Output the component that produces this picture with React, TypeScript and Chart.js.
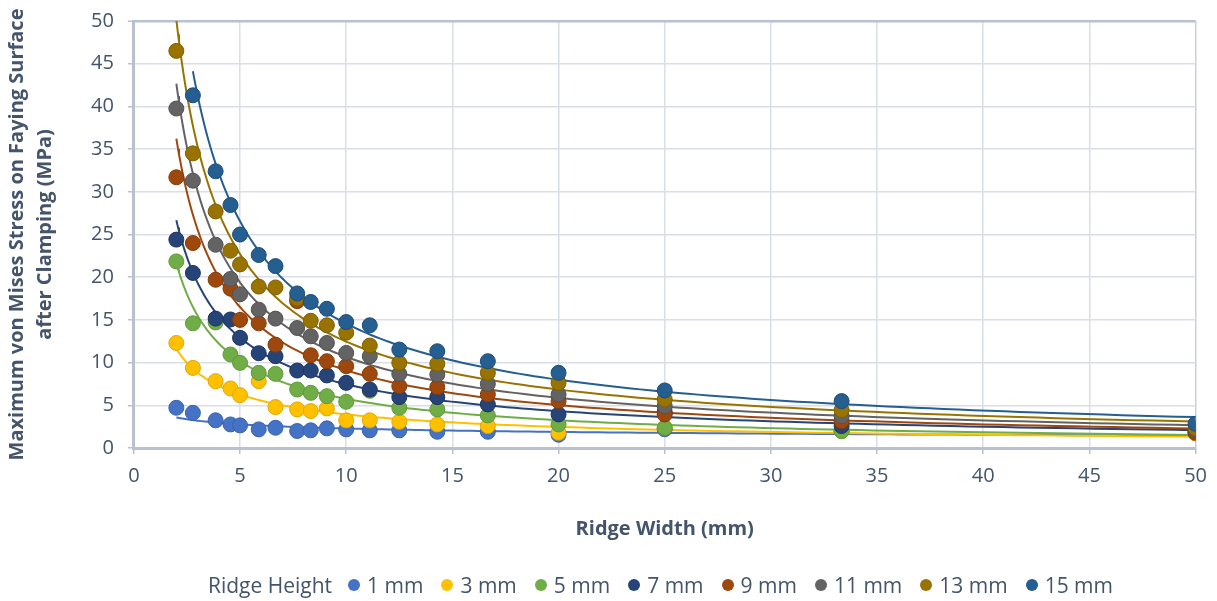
import React, { useEffect, useRef } from "react";
import { Chart, registerables } from "chart.js";

Chart.register(...registerables);

// Ridge width (mm) on the x axis
const ridgeWidths = [2, 2.78, 3.85, 4.55, 5, 5.88, 6.67, 7.69, 8.33, 9.09, 10, 11.11, 12.5, 14.29, 16.67, 20, 25, 33.33, 50];

// Ridge height series labels
const heightLabels = ["1 mm", "3 mm", "5 mm", "7 mm", "9 mm", "11 mm", "13 mm", "15 mm"];

// Maximum von Mises stress (MPa) per ridge height
const stress1mm = [4.71, 4.12, 3.24, 2.76, 2.65, 2.18, 2.37, 1.99, 2.07, 2.3, 2.18, 2.07, 2.07, 1.9, 1.9, 1.55, 2.2, 2.0, 1.75];
const stress3mm = [12.3, 9.38, 7.83, 6.97, 6.19, 7.83, 4.79, 4.52, 4.32, 4.64, 3.24, 3.24, 3.07, 2.76, 2.57, 1.79, 2.4, 2.0, 1.7];
const stress5mm = [21.85, 14.6, 14.7, 10.95, 9.97, 8.8, 8.68, 6.85, 6.46, 6.07, 5.41, 6.7, 4.71, 4.52, 3.82, 2.76, 2.37, 1.99, 1.8];
const stress7mm = [24.4, 20.5, 15.15, 15.05, 12.9, 11.1, 10.75, 9.07, 9.07, 8.5, 7.63, 6.85, 5.96, 5.96, 5.1, 3.93, 4.2, 2.57, 2.0];
const stress9mm = [31.7, 24.0, 19.7, 18.66, 15.0, 14.6, 12.1, 17.2, 10.86, 10.16, 9.58, 8.68, 7.24, 7.13, 6.27, 5.49, 3.93, 3.15, 1.79];
const stress11mm = [39.75, 31.3, 23.8, 19.8, 18.0, 16.2, 15.15, 14.05, 13.08, 12.3, 11.13, 10.75, 8.68, 8.6, 7.51, 6.27, 4.9, 3.74, 2.1];
const stress13mm = [46.5, 34.5, 27.7, 23.1, 21.5, 18.9, 18.8, 17.5, 14.9, 14.37, 13.5, 12.0, 9.97, 9.85, 8.8, 7.63, 5.69, 4.44, 2.3];
const stress15mm = [null, 41.3, 32.4, 28.45, 25.0, 22.6, 21.3, 18.1, 17.1, 16.3, 14.75, 14.37, 11.53, 11.33, 10.16, 8.8, 6.74, 5.49, 2.84];

const seriesColors = ["#4472C4", "#FFC000", "#70AD47", "#264478", "#9E480E", "#636363", "#997300", "#255E91"];
const markerBorders = ["#3A64AE", "#E0A800", "#5F9A3B", "#1D3660", "#853B0A", "#525252", "#7F6000", "#1D4C77"];

const axisMin = 0;
const axisMax = 50;
const axisStep = 5;

const legendTitle = "Ridge Height";
const xTitle = "Ridge Width (mm)";
const yTitle = ["Maximum von Mises Stress on Faying Surface", "after Clamping (MPa)"];

const textColor = "#44546A";
const fontFamily = "'Open Sans', sans-serif";

// Power-law trendline (least squares in log-log space), as in the spreadsheet trendline
function powerTrend(xs: number[], ys: (number | null)[]) {
  const pts: [number, number][] = [];
  xs.forEach((x, i) => {
    const y = ys[i];
    if (y != null && y > 0) pts.push([x, y]);
  });
  const n = pts.length;
  let sx = 0, sy = 0, sxx = 0, sxy = 0;
  for (const [x, y] of pts) {
    const lx = Math.log(x);
    const ly = Math.log(y);
    sx += lx; sy += ly; sxx += lx * lx; sxy += lx * ly;
  }
  const b = (n * sxy - sx * sy) / (n * sxx - sx * sx);
  const a = Math.exp((sy - b * sx) / n);
  const xmin = Math.min(...pts.map((p) => p[0]));
  const xmax = Math.max(...pts.map((p) => p[0]));
  const out: { x: number; y: number }[] = [];
  const steps = 160;
  for (let k = 0; k <= steps; k++) {
    const x = xmin * Math.pow(xmax / xmin, k / steps);
    out.push({ x, y: a * Math.pow(x, b) });
  }
  return out;
}

export default function App() {
  const canvasRef = useRef<HTMLCanvasElement | null>(null);

  useEffect(() => {
    const series = [stress1mm, stress3mm, stress5mm, stress7mm, stress9mm, stress11mm, stress13mm, stress15mm];

    const pointSets = series.map((vals, i) => ({
      type: "scatter" as const,
      label: heightLabels[i],
      data: ridgeWidths
        .map((x, j) => (vals[j] == null ? null : { x, y: vals[j] as number }))
        .filter((p) => p !== null),
      backgroundColor: seriesColors[i],
      borderColor: markerBorders[i],
      borderWidth: 1,
      pointRadius: 7.5,
      pointHoverRadius: 7.5,
      showLine: false,
      order: 50 - i,
    }));

    const trendSets = series.map((vals, i) => ({
      type: "scatter" as const,
      label: heightLabels[i] + " trend",
      data: powerTrend(ridgeWidths, vals),
      borderColor: seriesColors[i],
      backgroundColor: seriesColors[i],
      borderWidth: 2,
      pointRadius: 0,
      pointHoverRadius: 0,
      showLine: true,
      fill: false,
      tension: 0,
      order: 100 - i,
    }));

    const gridColor = (ctx: any) =>
      ctx.tick && ctx.tick.value === axisMax ? "#B8C1D1" : "#D9DEE7";
    const gridWidth = (ctx: any) => (ctx.tick && ctx.tick.value === axisMax ? 2.5 : 1.5);

    const chart = new Chart(canvasRef.current as HTMLCanvasElement, {
      type: "scatter",
      data: { datasets: [...pointSets, ...trendSets] as any },
      options: {
        animation: false,
        responsive: true,
        maintainAspectRatio: false,
        events: [],
        layout: { padding: { left: 0, right: 11, top: 0, bottom: 58 } },
        plugins: {
          legend: { display: false },
          tooltip: { enabled: false },
        },
        scales: {
          x: {
            type: "linear",
            min: axisMin,
            max: axisMax,
            ticks: {
              stepSize: axisStep,
              color: textColor,
              padding: 10,
              font: { family: fontFamily, size: 20 },
            },
            grid: {
              color: (ctx: any) => (ctx.tick && ctx.tick.value === axisMax ? "#C9D0DC" : "#D9DEE7"),
              lineWidth: 1.5,
              drawTicks: true,
              tickLength: 6,
              tickColor: "#B8C1D1",
              tickWidth: 1.5,
            },
            border: { display: true, color: "#B8C1D1", width: 3 },
            title: {
              display: true,
              text: xTitle,
              color: textColor,
              padding: { top: 17, bottom: 0 },
              font: { family: fontFamily, size: 20, weight: "bold", lineHeight: 1.4 },
            },
          },
          y: {
            type: "linear",
            min: axisMin,
            max: axisMax,
            ticks: {
              stepSize: axisStep,
              color: textColor,
              padding: 14,
              font: { family: fontFamily, size: 20 },
            },
            grid: {
              color: gridColor,
              lineWidth: gridWidth,
              drawTicks: true,
              tickLength: 6,
              tickColor: "#B8C1D1",
              tickWidth: 1.5,
            },
            border: { display: true, color: "#B8C1D1", width: 3 },
            title: {
              display: true,
              text: yTitle,
              color: textColor,
              padding: { top: 3, bottom: 18 },
              font: { family: fontFamily, size: 20, weight: "bold", lineHeight: 1.4 },
            },
          },
        },
      },
    });

    return () => chart.destroy();
  }, []);

  return (
    <div style={{ position: "absolute", left: 0, top: 0, width: 1217, height: 601, background: "#fff", overflow: "hidden" }}>
      <div style={{ position: "absolute", left: 0, top: -5, width: 1217, height: 606 }}>
        <canvas ref={canvasRef} />
      </div>
      <div
        style={{
          position: "absolute",
          left: 104,
          width: 1113,
          top: 572,
          height: 26,
          display: "flex",
          justifyContent: "center",
          alignItems: "center",
          fontFamily: fontFamily,
          fontSize: 21,
          color: textColor,
          lineHeight: "26px",
          whiteSpace: "nowrap",
        }}
      >
        <span style={{ marginRight: 16 }}>{legendTitle}</span>
        {heightLabels.map((lab, i) => (
          <span key={lab} style={{ display: "flex", alignItems: "center", marginRight: i < heightLabels.length - 1 ? 18 : 0 }}>
            <span
              style={{
                display: "inline-block",
                width: 12,
                height: 12,
                borderRadius: "50%",
                background: seriesColors[i],
                marginRight: 7,
              }}
            />
            <span>{lab}</span>
          </span>
        ))}
      </div>
    </div>
  );
}
